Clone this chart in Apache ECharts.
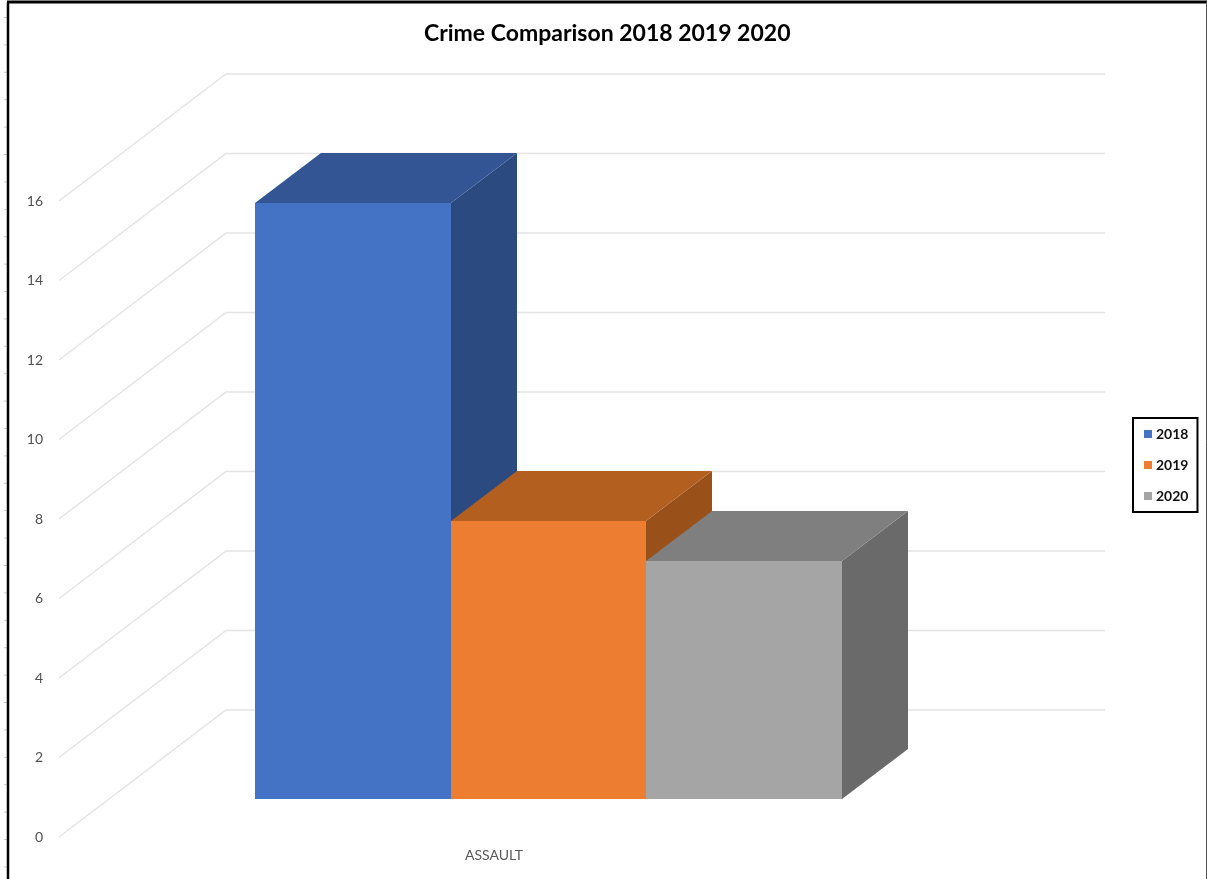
<!DOCTYPE html>
<html>
<head>
<meta charset="utf-8">
<style>html,body{margin:0;padding:0;background:#fff}#c{width:1207px;height:879px}</style>
<script src="https://cdn.jsdelivr.net/npm/echarts@6/dist/echarts.min.js"></script>
</head>
<body>
<div id="c"></div>
<script>
const titleText = 'Crime Comparison 2018 2019 2020';
const categories = ['ASSAULT'];
const yearNames = ['2018', '2019', '2020'];
const values2018 = [15];
const values2019 = [7];
const values2020 = [6];
const gridTicks = [0, 2, 4, 6, 8, 10, 12, 14, 16];
const frontColors = ['#4472C4', '#ED7D31', '#A5A5A5'];
const topColors = ['#335593', '#B35F20', '#7F7F7F'];
const sideColors = ['#2A4A80', '#995019', '#6A6A6A'];

const wallDX = 167, wallDY = -127;
const barDX = 49.5, barDY = -38;
const depthDX = 66, depthDY = -50;
const barShare = 0.2224;

const chart = echarts.init(document.getElementById('c'), null, {renderer: 'canvas'});

function wallRender(params, api) {
  const band = api.size([1, 0])[0];
  const p = api.coord([0, api.value(1)]);
  const x0 = p[0] - band / 2, y0 = p[1];
  const pts = [[x0, y0], [x0 + wallDX, y0 + wallDY], [x0 + band + wallDX - 1, y0 + wallDY]];
  return {type: 'polyline', shape: {points: pts}, style: {stroke: '#E4E4E4', lineWidth: 1.5, fill: null}, silent: true};
}

function barRender(idx) {
  return function (params, api) {
    const band = api.size([1, 0])[0];
    const w = band * barShare;
    const top = api.coord([0, api.value(1)]);
    const base = api.coord([0, 0]);
    const x = Math.round(top[0] + barDX - 1.5 * w + idx * w);
    const x2 = Math.round(top[0] + barDX - 1.5 * w + (idx + 1) * w);
    const yt = Math.round(top[1] + barDY), yb = Math.round(base[1] + barDY);
    const poly = (pts, c) => ({type: 'polygon', shape: {points: pts}, style: {fill: c}});
    return {type: 'group', children: [
      poly([[x2, yt], [x2 + depthDX, yt + depthDY], [x2 + depthDX, yb + depthDY], [x2, yb]], sideColors[idx]),
      poly([[x, yt], [x + depthDX, yt + depthDY], [x2 + depthDX, yt + depthDY], [x2, yt]], topColors[idx]),
      poly([[x, yt], [x2, yt], [x2, yb], [x, yb]], frontColors[idx])
    ]};
  };
}

const rulerMarks = [];
for (let y = 17.5; y < 879; y += 27.4) {
  rulerMarks.push({type: 'line', shape: {x1: 4, y1: y, x2: 7, y2: y}, style: {stroke: '#CCCCCC', lineWidth: 1}, silent: true});
}

const seriesValues = [values2018, values2019, values2020];

chart.setOption({
  animation: false,
  backgroundColor: '#fff',
  title: {
    text: titleText, left: 424 - 5, top: 17, padding: 5,
    textStyle: {fontFamily: 'Lato', fontWeight: 'bold', fontSize: 23, color: '#000'}
  },
  legend: {
    orient: 'vertical', left: 1133, top: 418,
    data: yearNames, icon: 'rect', itemWidth: 8, itemHeight: 8, itemGap: 17,
    padding: [9, 9, 9, 11],
    borderColor: '#000', borderWidth: 2, backgroundColor: '#fff',
    selectedMode: false,
    textStyle: {fontFamily: 'Lato', fontWeight: 'bold', fontSize: 14, color: '#111', padding: [0, 0, 2, -1]}
  },
  grid: {left: 59, top: 201, width: 880, height: 636, containLabel: false},
  xAxis: {
    type: 'category', data: categories,
    axisLine: {show: false}, axisTick: {show: false}, splitLine: {show: false},
    axisLabel: {margin: 11, fontFamily: 'Lato', fontSize: 14, color: '#595959', padding: [0, 10, 0, 0]}
  },
  yAxis: {
    type: 'value', min: 0, max: 16, interval: 2,
    axisLine: {show: false}, axisTick: {show: false}, splitLine: {show: false},
    axisLabel: {margin: 16, fontFamily: 'Lato', fontSize: 14, color: '#505050', padding: [0, 0, 9, 0]}
  },
  graphic: [
    {type: 'group', silent: true, children: rulerMarks.concat([
      {type: 'line', shape: {x1: 8, y1: 2, x2: 8, y2: 879}, style: {stroke: '#000', lineWidth: 2.5}},
      {type: 'line', shape: {x1: 7, y1: 2, x2: 1207, y2: 2}, style: {stroke: '#000', lineWidth: 3}},
      {type: 'line', shape: {x1: 1206.5, y1: 2, x2: 1206.5, y2: 879}, style: {stroke: '#555', lineWidth: 1}}
    ])}
  ],
  series: [
    {type: 'custom', name: 'walls', coordinateSystem: 'cartesian2d', renderItem: wallRender,
     data: gridTicks.map(t => [0, t]), clip: false, silent: true, z: 1}
  ].concat(yearNames.map((name, i) => ({
    type: 'custom', name: name, coordinateSystem: 'cartesian2d',
    renderItem: barRender(i), clip: false, silent: true, z: 2 + i,
    itemStyle: {color: frontColors[i]},
    data: seriesValues[i].map((v, k) => [k, v])
  })))
});
</script>
</body>
</html>
